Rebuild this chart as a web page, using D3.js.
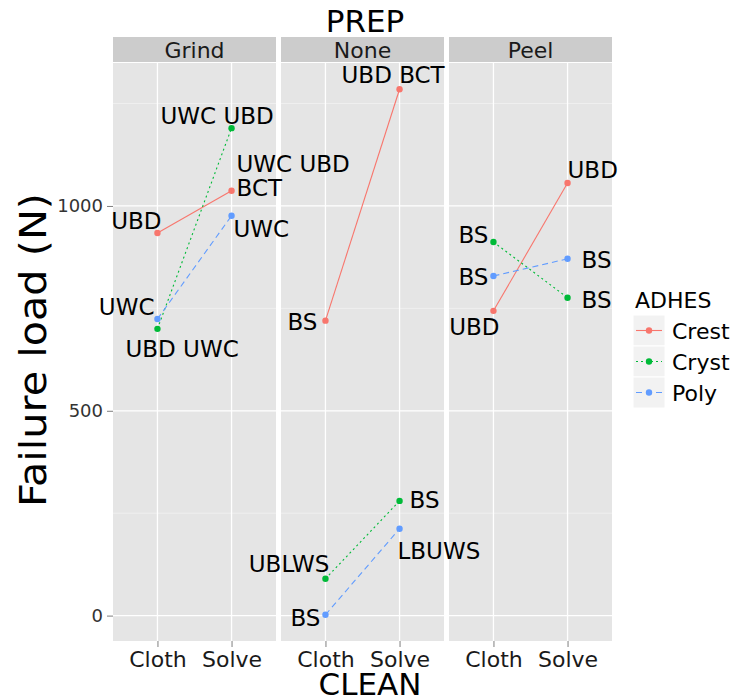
<!DOCTYPE html>
<html lang="en">
<head>
    <meta charset="UTF-8">
    <title>Failure load by PREP</title>
    <style>
        body { margin: 0; background: #fff; }
        svg { font-family: 'DejaVu Sans', sans-serif; }
    </style>
    <script src="https://d3js.org/d3.v7.min.js"></script>
</head>
<body>
    <svg id="chart" width="735" height="700"></svg>

    <script>
        // data
        const prepLevels = ["Grind", "None", "Peel"];
        const cleanLevels = ["Cloth", "Solve"];
        const adhesives = ["Crest", "Cryst", "Poly"];
        const yTicks = [0, 500, 1000];

        // failure load (N) per PREP, per ADHES: [Cloth, Solve]
        const grindLoad = { Crest: [934, 1037], Cryst: [700, 1190], Poly: [724, 976] };
        const noneLoad  = { Crest: [720, 1285], Cryst: [90, 280],   Poly: [2, 212] };
        const peelLoad  = { Crest: [744, 1056], Cryst: [912, 776],  Poly: [829, 871] };

        // text labels next to each point: [Cloth, Solve]
        const grindText = { Crest: ["UBD", "UWC UBD\nBCT"], Cryst: ["UBD UWC", "UWC UBD"], Poly: ["UWC", "UWC"] };
        const noneText  = { Crest: ["BS", "UBD BCT"], Cryst: ["UBLWS", "BS"], Poly: ["BS", "LBUWS"] };
        const peelText  = { Crest: ["UBD", "UBD"], Cryst: ["BS", "BS"], Poly: ["BS", "BS"] };

        const loads = { Grind: grindLoad, None: noneLoad, Peel: peelLoad };
        const texts = { Grind: grindText, None: noneText, Peel: peelText };

        // label nudges [anchor, dx, dy] in the same order (dy = baseline of last line)
        const nudge = {
            Grind: { Crest: [["end", 4, -4], ["start", 5, 5]], Cryst: [["start", -32, 28], ["start", -71, -4]], Poly: [["end", -3, -4], ["start", 2, 21]] },
            None:  { Crest: [["end", -8, 9], ["start", -58, -6]], Cryst: [["end", 4, -7], ["start", 10, 7]], Poly: [["end", -5, 11], ["start", -2, 30]] },
            Peel:  { Crest: [["end", 6, 24], ["start", 0, -5]], Cryst: [["end", -5, 1], ["start", 14, 10]], Poly: [["end", -5, 9], ["start", 14, 9]] }
        };

        const colors = d3.scaleOrdinal().domain(adhesives).range(["#F8766D", "#00BA38", "#619CFF"]);
        const dashes = d3.scaleOrdinal().domain(adhesives).range(["none", "2,3", "6,4"]);

        const svg = d3.select("#chart");
        const panelTop = 63, panelBottom = 641, stripTop = 37;
        const labelSize = 23;

        const facet = d3.scaleBand().domain(prepLevels).range([113, 612]).paddingInner(5 / 168);
        const bw = facet.bandwidth();
        const x = d3.scalePoint().domain(cleanLevels).range([0, bw]).padding(0.6);
        const y = d3.scaleLinear().domain([-62, 1349]).range([panelBottom, panelTop]);

        const panelLayer = svg.append("g");
        const labelLayer = svg.append("g");

        prepLevels.forEach(prep => {
            const g = panelLayer.append("g").attr("transform", `translate(${facet(prep)},0)`);

            // strip
            g.append("rect").attr("x", 0).attr("y", stripTop).attr("width", bw)
                .attr("height", panelTop - stripTop - 1).attr("fill", "#CCCCCC");
            g.append("text").attr("x", bw / 2).attr("y", 58).attr("text-anchor", "middle")
                .attr("font-size", 22).attr("fill", "#1a1a1a").text(prep);

            // panel
            g.append("rect").attr("x", 0).attr("y", panelTop).attr("width", bw)
                .attr("height", panelBottom - panelTop).attr("fill", "#E5E5E5");

            [250, 750, 1250].forEach(v => {
                g.append("line").attr("x1", 0).attr("x2", bw).attr("y1", y(v)).attr("y2", y(v))
                    .attr("stroke", "#F2F2F2").attr("stroke-width", 0.8);
            });
            yTicks.forEach(v => {
                g.append("line").attr("x1", 0).attr("x2", bw).attr("y1", y(v)).attr("y2", y(v))
                    .attr("stroke", "#fff").attr("stroke-width", 1.3);
            });
            cleanLevels.forEach(c => {
                g.append("line").attr("x1", x(c)).attr("x2", x(c)).attr("y1", panelTop).attr("y2", panelBottom)
                    .attr("stroke", "#fff").attr("stroke-width", 1.3);
            });

            // x axis
            const ax = g.append("g").attr("transform", `translate(0,${panelBottom})`)
                .call(d3.axisBottom(x).tickSize(6).tickPadding(4));
            ax.select(".domain").remove();
            ax.selectAll(".tick line").attr("stroke", "#7F7F7F");
            ax.selectAll(".tick text").attr("font-size", 22).attr("fill", "#1a1a1a")
                .attr("font-family", "'DejaVu Sans', sans-serif").attr("dy", "0.72em");

            // lines and points
            adhesives.forEach(a => {
                const vals = cleanLevels.map((c, i) => ({ c, v: loads[prep][a][i], t: texts[prep][a][i], n: nudge[prep][a][i] }));
                g.append("path").datum(vals)
                    .attr("d", d3.line().x(d => x(d.c)).y(d => y(d.v)))
                    .attr("fill", "none").attr("stroke", colors(a)).attr("stroke-width", 1.1)
                    .attr("stroke-dasharray", dashes(a));
                g.selectAll(null).data(vals).enter().append("circle")
                    .attr("cx", d => x(d.c)).attr("cy", d => y(d.v)).attr("r", 3.2)
                    .attr("fill", colors(a));

                // labels go on top of every panel
                vals.forEach(d => {
                    const lines = d.t.split("\n");
                    const t = labelLayer.append("text").attr("text-anchor", d.n[0])
                        .attr("font-size", labelSize).attr("fill", "#000");
                    lines.forEach((s, i) => {
                        t.append("tspan").attr("x", facet(prep) + x(d.c) + d.n[1])
                            .attr("y", y(d.v) + d.n[2] - (lines.length - 1 - i) * 24).text(s);
                    });
                });
            });
        });

        // y axis
        const ay = svg.append("g").attr("transform", "translate(113,0)")
            .call(d3.axisLeft(y).tickValues(yTicks).tickFormat(d3.format("d")).tickSize(6).tickPadding(4));
        ay.select(".domain").remove();
        ay.selectAll(".tick line").attr("stroke", "#7F7F7F");
        ay.selectAll(".tick text").attr("font-size", 18).attr("fill", "#333")
            .attr("font-family", "'DejaVu Sans', sans-serif");

        // titles
        svg.append("text").attr("x", 365).attr("y", 32).attr("text-anchor", "middle")
            .attr("font-size", 31).text("PREP");
        svg.append("text").attr("x", 370).attr("y", 695).attr("text-anchor", "middle")
            .attr("font-size", 31).text("CLEAN");
        svg.append("text").attr("transform", "translate(46,350) rotate(-90)").attr("text-anchor", "middle")
            .attr("font-size", 38).attr("textLength", 314).attr("lengthAdjust", "spacingAndGlyphs")
            .text("Failure load (N)");

        // legend
        const lg = svg.append("g").attr("transform", "translate(633,0)");
        lg.append("text").attr("x", 2).attr("y", 308).attr("font-size", 22).text("ADHES");
        adhesives.forEach((a, i) => {
            const top = 315 + i * 31;
            lg.append("rect").attr("x", 0).attr("y", top).attr("width", 32).attr("height", 31)
                .attr("fill", "#F2F2F2").attr("stroke", "#fff").attr("stroke-width", 1);
            lg.append("line").attr("x1", 3).attr("x2", 29).attr("y1", top + 15.5).attr("y2", top + 15.5)
                .attr("stroke", colors(a)).attr("stroke-width", 1.1).attr("stroke-dasharray", dashes(a));
            lg.append("circle").attr("cx", 16).attr("cy", top + 15.5).attr("r", 3.2).attr("fill", colors(a));
            lg.append("text").attr("x", 39).attr("y", top + 24).attr("font-size", 22).text(a);
        });
    </script>
</body>
</html>
